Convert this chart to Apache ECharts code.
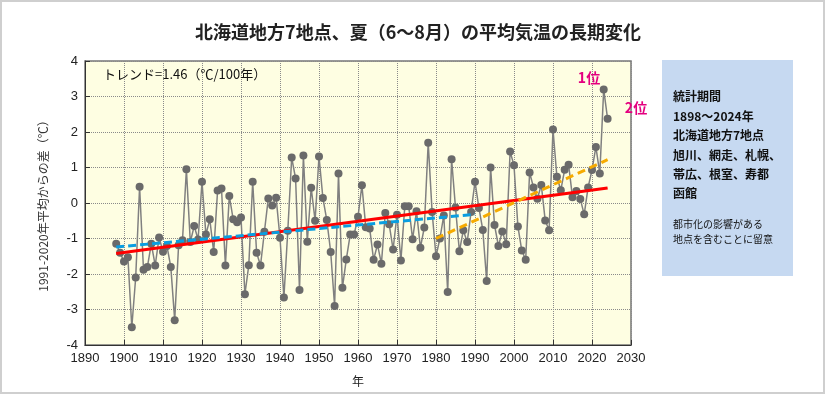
<!DOCTYPE html>
<html><head><meta charset="utf-8">
<script src="https://cdn.jsdelivr.net/npm/echarts@6/dist/echarts.min.js"></script>
<style>html,body{margin:0;padding:0;background:#fff}#c{width:827px;height:395px}</style>
</head><body><div id="c"></div>
<script>
// ---- data ----
const startYear = 1898;
const anomalies = [
  -1.15, -1.40, -1.65, -1.53, -3.50, -2.10, 0.46, -1.88, -1.80, -1.15,
  -1.76, -0.97, -1.37, -1.21, -1.80, -3.30, -1.19, -1.05, 0.95, -1.10,
  -0.65, -1.03, 0.60, -0.89, -0.46, -1.38, 0.35, 0.41, -1.76, 0.20,
  -0.46, -0.54, -0.41, -2.57, -1.75, 0.60, -1.40, -1.76, -0.81, 0.13,
  -0.07, 0.15, -0.98, -2.66, -0.78, 1.28, 0.69, -2.45, 1.34, -1.09,
  0.43, -0.50, 1.31, 0.14, -0.48, -1.38, -2.90, 0.83, -2.39, -1.59,
  -0.89, -0.89, -0.39, 0.50, -0.68, -0.72, -1.60, -1.17, -1.71, -0.28,
  -0.60, -1.31, -0.33, -1.62, -0.09, -0.09, -1.02, -0.23, -1.26, -0.69,
  1.70, -0.25, -1.50, -1.00, -0.35, -2.51, 1.23, -0.13, -1.36, -0.77,
  -1.10, -0.25, 0.60, -0.14, -0.76, -2.20, 1.00, -0.62, -1.21, -0.80,
  -1.16, 1.45, 1.06, -0.66, -1.34, -1.60, 0.86, 0.44, 0.12, 0.51,
  -0.49, -0.77, 2.07, 0.74, 0.36, 0.94, 1.08, 0.16, 0.34, 0.11,
  -0.32, 0.44, 0.93, 1.58, 0.83, 3.20, 2.37
];
const years = anomalies.map((v, i) => startYear + i);
const trendAll = [[1898, -1.42], [2024, 0.42]];
const trendEarly = [[1898, -1.24], [1990, -0.32]];
const trendRecent = [[1980, -1.00], [2024, 1.22]];
const xTicks = [1890, 2030, 10];
const yTicks = [-4, 4, 1];
const titleText = '北海道地方7地点、夏（6～8月）の平均気温の長期変化';
const trendLabel = 'トレンド=1.46（℃/100年）';
const yName = '1991-2020年平均からの差（℃）';
const xName = '年';
const infoLines = ['統計期間', '1898～2024年', '北海道地方7地点', '旭川、網走、札幌、', '帯広、根室、寿都', '函館'];
const noteLines = ['都市化の影響がある', '地点を含むことに留意'];
const rankLabels = ['1位', '2位'];

// ---- chart ----
const chart = echarts.init(document.getElementById('c'));
const seriesData = years.map((y, i) => [y, anomalies[i]]);
const jp = '"Noto Sans CJK JP", sans-serif';
const graphics = [
  {type: 'rect', shape: {x: 1, y: 1, width: 823, height: 392}, style: {fill: 'none', stroke: '#cfcfcf', lineWidth: 2}, silent: true},
  {type: 'text', x: 418, y: 32, style: {text: titleText, font: 'bold 18px ' + jp, fill: '#222', textAlign: 'center', textVerticalAlign: 'middle'}},
  {type: 'text', x: 103, y: 74, style: {text: trendLabel, font: '13px ' + jp, fill: '#111', textAlign: 'left', textVerticalAlign: 'middle'}, z: 10},
  {type: 'text', x: 589, y: 78, style: {text: rankLabels[0], font: 'bold 14px ' + jp, fill: '#e4007f', textAlign: 'center', textVerticalAlign: 'middle'}, z: 10},
  {type: 'text', x: 636, y: 108, style: {text: rankLabels[1], font: 'bold 14px ' + jp, fill: '#e4007f', textAlign: 'center', textVerticalAlign: 'middle'}, z: 10},
  {type: 'rect', shape: {x: 662, y: 60, width: 131, height: 216}, style: {fill: '#c6d9f1'}, silent: true}
];
const infoY = [96, 116, 135, 155, 174, 193];
infoLines.forEach((t, i) => graphics.push({type: 'text', x: 673, y: infoY[i], style: {text: t, font: 'bold 12px ' + jp, fill: '#111', textVerticalAlign: 'middle'}, z: 5}));
const noteY = [224, 239];
noteLines.forEach((t, i) => graphics.push({type: 'text', x: 673, y: noteY[i], style: {text: t, font: '10px ' + jp, fill: '#111', textVerticalAlign: 'middle'}, z: 5}));

const labelStyle = {color: '#222', fontSize: 13, fontFamily: '"Liberation Sans", Arial, sans-serif', margin: 7, formatter: v => String(v)};
const axisCommon = {
  axisLine: {show: true, onZero: false, lineStyle: {color: '#333', width: 1}},
  axisTick: {show: true, inside: true, length: 5, lineStyle: {color: '#333'}},
  axisLabel: labelStyle,
  splitLine: {show: true, lineStyle: {type: 'dotted', color: '#8a8a8a', width: 1}}
};

chart.setOption({
  animation: false,
  grid: {left: 85, right: 196, top: 61, bottom: 50, show: true, backgroundColor: '#fefee2', borderColor: '#777', borderWidth: 1.5},
  xAxis: Object.assign({type: 'value', min: xTicks[0], max: xTicks[1], interval: xTicks[2],
    name: xName, nameLocation: 'middle', nameGap: 30,
    nameTextStyle: {fontSize: 12, fontFamily: jp, color: '#222'}}, axisCommon),
  yAxis: Object.assign({type: 'value', min: yTicks[0], max: yTicks[1], interval: yTicks[2],
    name: yName, nameLocation: 'middle', nameGap: 36, nameRotate: 90,
    nameTextStyle: {fontSize: 12, fontFamily: jp, color: '#333'}}, axisCommon),
  graphic: graphics,
  series: [
    {type: 'line', data: trendAll, symbol: 'none', lineStyle: {color: '#ff0000', width: 3}, z: 3},
    {type: 'line', data: trendEarly, symbol: 'none', lineStyle: {color: '#0a9ee0', width: 3, type: [8, 4]}, z: 3},
    {type: 'line', data: trendRecent, symbol: 'none', lineStyle: {color: '#f6ab00', width: 3, type: [8, 5]}, z: 3},
    {type: 'line', data: seriesData, symbol: 'circle', symbolSize: 8,
      itemStyle: {color: '#6a6a6a'}, lineStyle: {color: '#808080', width: 1.5}, z: 2}
  ]
});
</script></body></html>
